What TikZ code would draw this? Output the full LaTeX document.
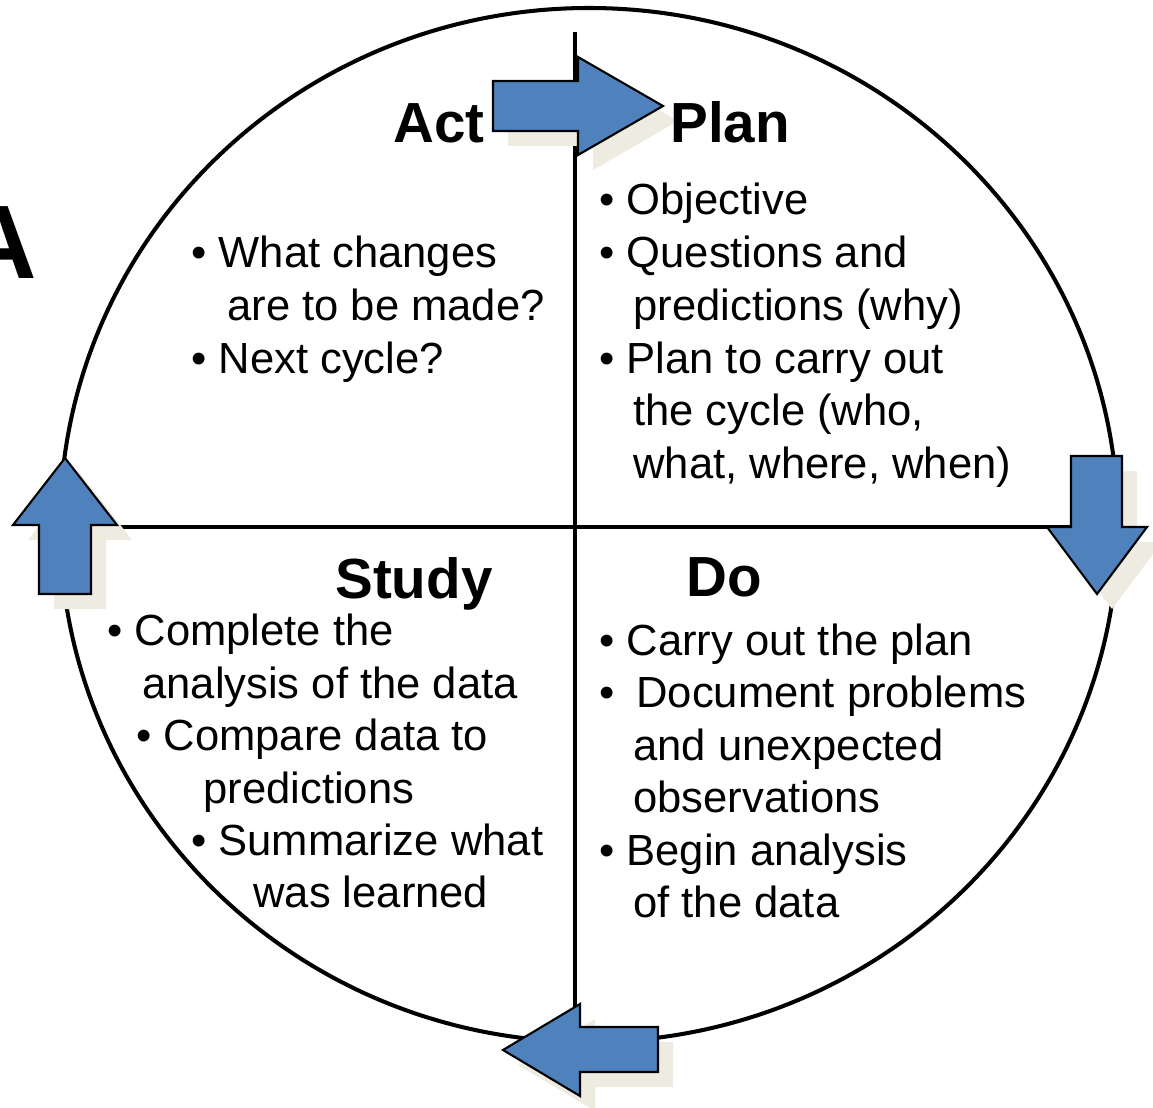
\documentclass[tikz,border=0pt]{standalone}
\usepackage{fontspec}
\setmainfont{Liberation Sans}
\definecolor{pdsablue}{HTML}{4F81BD}
\definecolor{pdsashadow}{HTML}{EEECE1}
\newcommand{\bodyfont}{\fontsize{24.8}{29.8}\selectfont}
\newcommand{\headfont}{\fontsize{32.2}{38}\selectfont\bfseries}
\tikzset{
  txt/.style={anchor=base west, inner sep=0pt, font=\bodyfont},
  head/.style={anchor=base west, inner sep=0pt, font=\headfont},
  blockarrow/.style={fill=pdsablue, draw=black, line width=1.2pt, line join=miter},
  blockshadow/.style={fill=pdsashadow, shift={(15,15)}},
  ruleline/.style={line width=2.3pt}
}

\begin{document}
\begin{tikzpicture}[x=0.02cm, y=-0.02cm]
\useasboundingbox (0,0) rectangle (1153,1108);

% circle and the two dividing lines
\draw[ruleline] (589,525) ellipse [x radius=529, y radius=517];
\draw[line width=1.8pt] (575,32) -- (575,1040);
\draw[line width=1.8pt] (60,527) -- (1118,527);

% shadows of the four arrows
\fill[blockshadow] (493,81) -- (578,81) -- (578,57) -- (663,106) -- (578,155) -- (578,131) -- (493,131) -- cycle;
\fill[blockshadow] (1071,456) -- (1122,456) -- (1122,527) -- (1147,527) -- (1097,594) -- (1047,527) -- (1071,527) -- cycle;
\fill[blockshadow] (658,1027) -- (580,1027) -- (580,1004) -- (503,1050) -- (580,1096) -- (580,1072) -- (658,1072) -- cycle;
\fill[blockshadow] (39,594) -- (39,525) -- (13,525) -- (65,458) -- (117,525) -- (91,525) -- (91,594) -- cycle;

% arrows
\draw[blockarrow] (493,81) -- (578,81) -- (578,57) -- (663,106) -- (578,155) -- (578,131) -- (493,131) -- cycle;
\draw[blockarrow] (1071,456) -- (1122,456) -- (1122,527) -- (1147,527) -- (1097,594) -- (1047,527) -- (1071,527) -- cycle;
\draw[blockarrow] (658,1027) -- (580,1027) -- (580,1004) -- (503,1050) -- (580,1096) -- (580,1072) -- (658,1072) -- cycle;
\draw[blockarrow] (39,594) -- (39,525) -- (13,525) -- (65,458) -- (117,525) -- (91,525) -- (91,594) -- cycle;

% headings
\node[head] (act) at (393,143) {Act};
\node[head] (plan) at (670,143) {Plan};
\node[head] (study) at (335,598) {Study};
\node[head] (do) at (686,596) {Do};
\node[anchor=base east, inner sep=0pt, font=\fontsize{59.5}{60}\selectfont\bfseries] (panel) at (37,278) {A};

% quadrant texts
\foreach \n/\x/\y/\t in {1/599/215/{• Objective}, 2/599/268/{• Questions and}, 3/633/320/{predictions (why)},
  4/599/373/{• Plan to carry out}, 5/633/425/{the cycle (who,}, 6/633/478/{what, where, when)}}
  \node[txt] (plan\n) at (\x,\y) {\t};
\foreach \n/\x/\y/\t in {1/191/268/{• What changes}, 2/227/320/{are to be made?}, 3/191/373/{• Next cycle?}}
  \node[txt] (act\n) at (\x,\y) {\t};
\foreach \n/\x/\y/\t in {1/107/645/{• Complete the}, 2/142/698/{analysis of the data}, 3/136/750/{• Compare data to},
  4/203/803/{predictions}, 5/191/855/{• Summarize what}, 6/253/907/{was learned}}
  \node[txt] (study\n) at (\x,\y) {\t};
\foreach \n/\x/\y/\t in {1/599/655/{• Carry out the plan}, 2/599/707/{•\hspace{0.5em}Document problems}, 3/633/760/{and unexpected},
  4/633/812/{observations}, 5/599/865/{• Begin analysis}, 6/633/917/{of the data}}
  \node[txt] (do\n) at (\x,\y) {\t};

\end{tikzpicture}
\end{document}
